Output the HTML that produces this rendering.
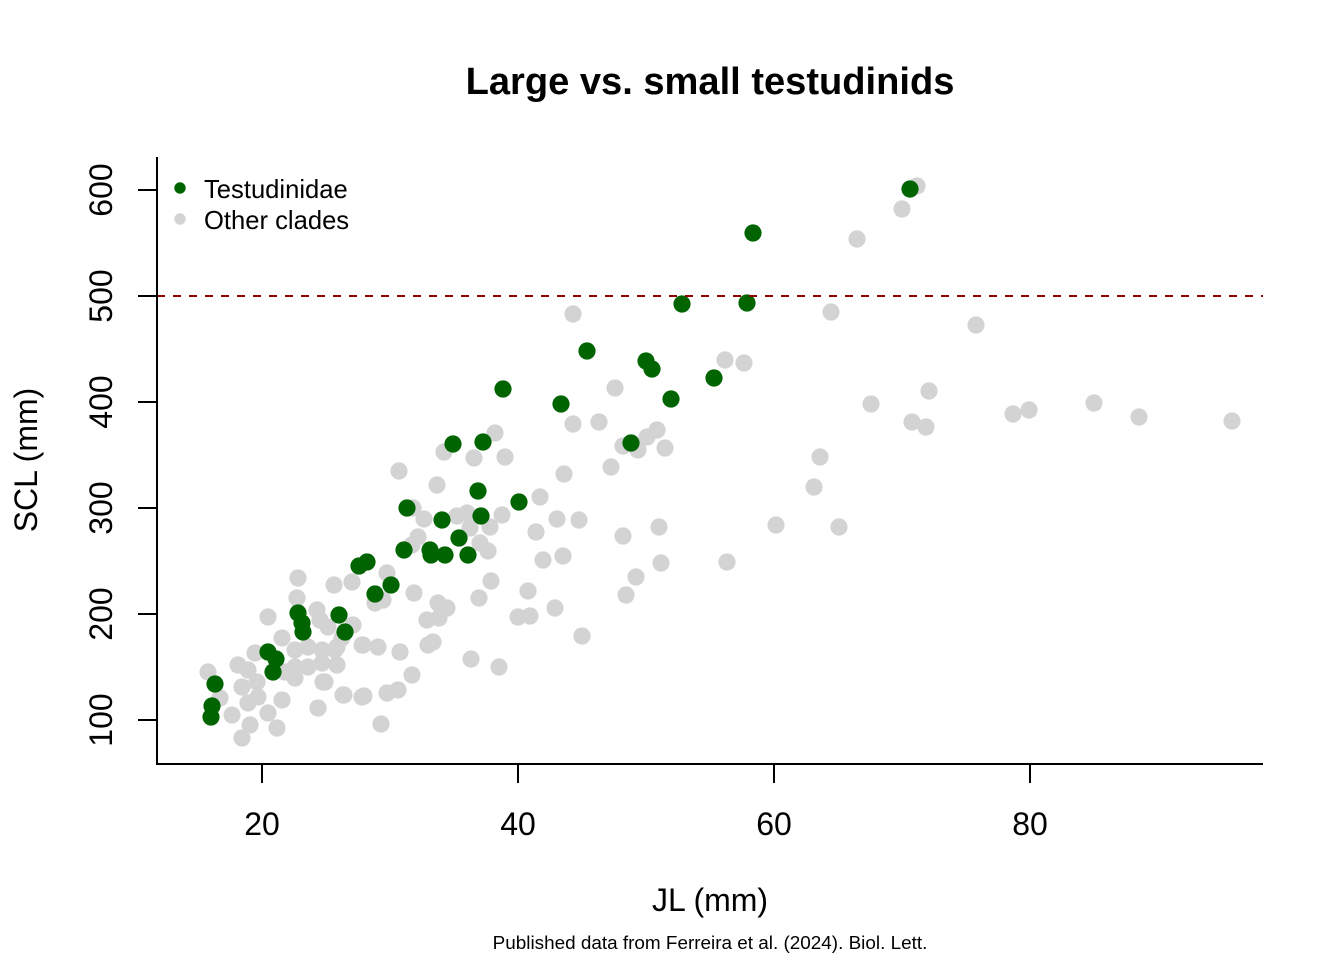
<!DOCTYPE html>
<html><head><meta charset="utf-8"><style>
html,body{margin:0;padding:0;background:#fff;}
svg{display:block;}
text{font-family:"Liberation Sans",Arial,sans-serif;fill:#000;}
</style></head><body>
<svg width="1344" height="960" viewBox="0 0 1344 960" xmlns="http://www.w3.org/2000/svg">
<rect width="1344" height="960" fill="#fff"/>
<text x="710" y="94" font-size="38.1" font-weight="bold" text-anchor="middle">Large vs. small testudinids</text>
<g fill="#D3D3D3">
<circle cx="917" cy="186" r="8.6"/><circle cx="902" cy="209" r="8.6"/><circle cx="857" cy="239" r="8.6"/><circle cx="831" cy="312" r="8.6"/><circle cx="976" cy="325" r="8.6"/><circle cx="929" cy="391" r="8.6"/><circle cx="871" cy="404" r="8.6"/><circle cx="912" cy="422" r="8.6"/><circle cx="926" cy="427" r="8.6"/><circle cx="1013" cy="414" r="8.6"/><circle cx="1029" cy="410" r="8.6"/><circle cx="1094" cy="403" r="8.6"/><circle cx="1139" cy="417" r="8.6"/><circle cx="1232" cy="421" r="8.6"/><circle cx="820" cy="457" r="8.6"/><circle cx="814" cy="487" r="8.6"/><circle cx="776" cy="525" r="8.6"/><circle cx="839" cy="527" r="8.6"/><circle cx="727" cy="562" r="8.6"/><circle cx="725" cy="360" r="8.6"/><circle cx="744" cy="363" r="8.6"/>
<circle cx="573" cy="314" r="8.6"/><circle cx="615" cy="388" r="8.6"/><circle cx="573" cy="424" r="8.6"/><circle cx="599" cy="422" r="8.6"/><circle cx="657" cy="430" r="8.6"/><circle cx="647" cy="437" r="8.6"/><circle cx="623" cy="446" r="8.6"/><circle cx="638" cy="450" r="8.6"/><circle cx="665" cy="448" r="8.6"/><circle cx="611" cy="467" r="8.6"/><circle cx="564" cy="474" r="8.6"/><circle cx="495" cy="433" r="8.6"/><circle cx="444" cy="452" r="8.6"/><circle cx="474" cy="458" r="8.6"/><circle cx="505" cy="457" r="8.6"/><circle cx="399" cy="471" r="8.6"/><circle cx="437" cy="485" r="8.6"/>
<circle cx="540" cy="497" r="8.6"/><circle cx="557" cy="519" r="8.6"/><circle cx="579" cy="520" r="8.6"/><circle cx="536" cy="532" r="8.6"/><circle cx="623" cy="536" r="8.6"/><circle cx="659" cy="527" r="8.6"/><circle cx="543" cy="560" r="8.6"/><circle cx="563" cy="556" r="8.6"/><circle cx="661" cy="563" r="8.6"/><circle cx="636" cy="577" r="8.6"/><circle cx="626" cy="595" r="8.6"/><circle cx="491" cy="581" r="8.6"/><circle cx="479" cy="598" r="8.6"/><circle cx="528" cy="591" r="8.6"/><circle cx="555" cy="608" r="8.6"/><circle cx="518" cy="617" r="8.6"/><circle cx="530" cy="616" r="8.6"/><circle cx="582" cy="636" r="8.6"/><circle cx="438" cy="603" r="8.6"/><circle cx="447" cy="608" r="8.6"/><circle cx="427" cy="620" r="8.6"/><circle cx="439" cy="618" r="8.6"/><circle cx="433" cy="642" r="8.6"/><circle cx="471" cy="659" r="8.6"/><circle cx="499" cy="667" r="8.6"/><circle cx="502" cy="515" r="8.6"/><circle cx="490" cy="527" r="8.6"/><circle cx="488" cy="551" r="8.6"/><circle cx="480" cy="543" r="8.6"/><circle cx="470" cy="528" r="8.6"/><circle cx="457" cy="516" r="8.6"/><circle cx="467" cy="513" r="8.6"/><circle cx="413" cy="508" r="8.6"/><circle cx="424" cy="519" r="8.6"/><circle cx="418" cy="537" r="8.6"/><circle cx="412" cy="545" r="8.6"/><circle cx="387" cy="573" r="8.6"/><circle cx="414" cy="593" r="8.6"/>
<circle cx="298" cy="578" r="8.6"/><circle cx="334" cy="585" r="8.6"/><circle cx="352" cy="582" r="8.6"/><circle cx="297" cy="598" r="8.6"/><circle cx="268" cy="617" r="8.6"/><circle cx="317" cy="610" r="8.6"/><circle cx="320" cy="620" r="8.6"/><circle cx="353" cy="625" r="8.6"/><circle cx="375" cy="603" r="8.6"/><circle cx="383" cy="600" r="8.6"/><circle cx="428" cy="645" r="8.6"/><circle cx="400" cy="652" r="8.6"/><circle cx="378" cy="647" r="8.6"/><circle cx="363" cy="645" r="8.6"/><circle cx="337" cy="647" r="8.6"/><circle cx="337" cy="665" r="8.6"/><circle cx="323" cy="682" r="8.6"/><circle cx="412" cy="675" r="8.6"/><circle cx="398" cy="690" r="8.6"/><circle cx="387" cy="693" r="8.6"/><circle cx="364" cy="696" r="8.6"/><circle cx="344" cy="695" r="8.6"/><circle cx="318" cy="708" r="8.6"/><circle cx="381" cy="724" r="8.6"/><circle cx="282" cy="638" r="8.6"/><circle cx="295" cy="650" r="8.6"/><circle cx="308" cy="647" r="8.6"/><circle cx="322" cy="650" r="8.6"/><circle cx="335" cy="650" r="8.6"/><circle cx="295" cy="667" r="8.6"/><circle cx="308" cy="667" r="8.6"/><circle cx="322" cy="663" r="8.6"/><circle cx="285" cy="672" r="8.6"/><circle cx="295" cy="678" r="8.6"/><circle cx="325" cy="682" r="8.6"/><circle cx="255" cy="653" r="8.6"/><circle cx="238" cy="665" r="8.6"/><circle cx="208" cy="672" r="8.6"/><circle cx="248" cy="670" r="8.6"/><circle cx="257" cy="682" r="8.6"/><circle cx="242" cy="687" r="8.6"/><circle cx="220" cy="698" r="8.6"/><circle cx="258" cy="697" r="8.6"/><circle cx="248" cy="703" r="8.6"/><circle cx="282" cy="700" r="8.6"/><circle cx="268" cy="713" r="8.6"/><circle cx="232" cy="715" r="8.6"/><circle cx="250" cy="725" r="8.6"/><circle cx="277" cy="728" r="8.6"/><circle cx="242" cy="738" r="8.6"/><circle cx="343" cy="695" r="8.6"/><circle cx="362" cy="697" r="8.6"/><circle cx="342" cy="638" r="8.6"/><circle cx="362" cy="645" r="8.6"/><circle cx="328" cy="627" r="8.6"/>
</g>
<g fill="#006400">
<circle cx="215" cy="684" r="8.6"/><circle cx="212" cy="706" r="8.6"/><circle cx="211" cy="717" r="8.6"/><circle cx="268" cy="652" r="8.6"/><circle cx="276" cy="659" r="8.6"/><circle cx="273" cy="672" r="8.6"/><circle cx="298" cy="613" r="8.6"/><circle cx="302" cy="623" r="8.6"/><circle cx="303" cy="632" r="8.6"/><circle cx="339" cy="615" r="8.6"/><circle cx="345" cy="632" r="8.6"/><circle cx="375" cy="594" r="8.6"/><circle cx="391" cy="585" r="8.6"/><circle cx="359" cy="566" r="8.6"/><circle cx="367" cy="562" r="8.6"/><circle cx="404" cy="550" r="8.6"/><circle cx="430" cy="550" r="8.6"/><circle cx="431" cy="555" r="8.6"/><circle cx="445" cy="555" r="8.6"/><circle cx="468" cy="555" r="8.6"/><circle cx="459" cy="538" r="8.6"/><circle cx="407" cy="508" r="8.6"/><circle cx="442" cy="520" r="8.6"/><circle cx="481" cy="516" r="8.6"/><circle cx="519" cy="502" r="8.6"/><circle cx="478" cy="491" r="8.6"/><circle cx="453" cy="444" r="8.6"/><circle cx="483" cy="442" r="8.6"/><circle cx="503" cy="389" r="8.6"/><circle cx="561" cy="404" r="8.6"/><circle cx="631" cy="443" r="8.6"/><circle cx="587" cy="351" r="8.6"/><circle cx="646" cy="361" r="8.6"/><circle cx="652" cy="369" r="8.6"/><circle cx="671" cy="399" r="8.6"/><circle cx="714" cy="378" r="8.6"/><circle cx="682" cy="304" r="8.6"/><circle cx="747" cy="303" r="8.6"/><circle cx="753" cy="233" r="8.6"/><circle cx="910" cy="189" r="8.6"/>
</g>
<line x1="157" y1="296" x2="1263" y2="296" stroke="#8B0000" stroke-width="2" stroke-dasharray="8,8"/>
<g stroke="#000" stroke-width="2" fill="none">
<polyline points="157,157 157,764 1263,764"/>
<line x1="262" y1="764" x2="262" y2="783"/><line x1="518" y1="764" x2="518" y2="783"/><line x1="774" y1="764" x2="774" y2="783"/><line x1="1030" y1="764" x2="1030" y2="783"/>
<line x1="138" y1="190" x2="157" y2="190"/><line x1="138" y1="296" x2="157" y2="296"/><line x1="138" y1="402" x2="157" y2="402"/><line x1="138" y1="508" x2="157" y2="508"/><line x1="138" y1="614" x2="157" y2="614"/><line x1="138" y1="720" x2="157" y2="720"/>
</g>
<g font-size="32" text-anchor="middle">
<text x="262" y="835">20</text><text x="518" y="835">40</text><text x="774" y="835">60</text><text x="1030" y="835">80</text>
<text transform="translate(112,190) rotate(-90)">600</text>
<text transform="translate(112,296) rotate(-90)">500</text>
<text transform="translate(112,402) rotate(-90)">400</text>
<text transform="translate(112,508) rotate(-90)">300</text>
<text transform="translate(112,614) rotate(-90)">200</text>
<text transform="translate(112,720) rotate(-90)">100</text>
<text x="710" y="911">JL (mm)</text>
<text transform="translate(37,460) rotate(-90)">SCL (mm)</text>
</g>
<circle cx="180" cy="188" r="5.7" fill="#006400"/>
<circle cx="180" cy="219" r="5.7" fill="#D3D3D3"/>
<text x="204" y="198" font-size="25.6">Testudinidae</text>
<text x="204" y="229" font-size="25.6">Other clades</text>
<text x="710" y="949" font-size="18.9" text-anchor="middle">Published data from Ferreira et al. (2024). Biol. Lett.</text>
</svg>
</body></html>
